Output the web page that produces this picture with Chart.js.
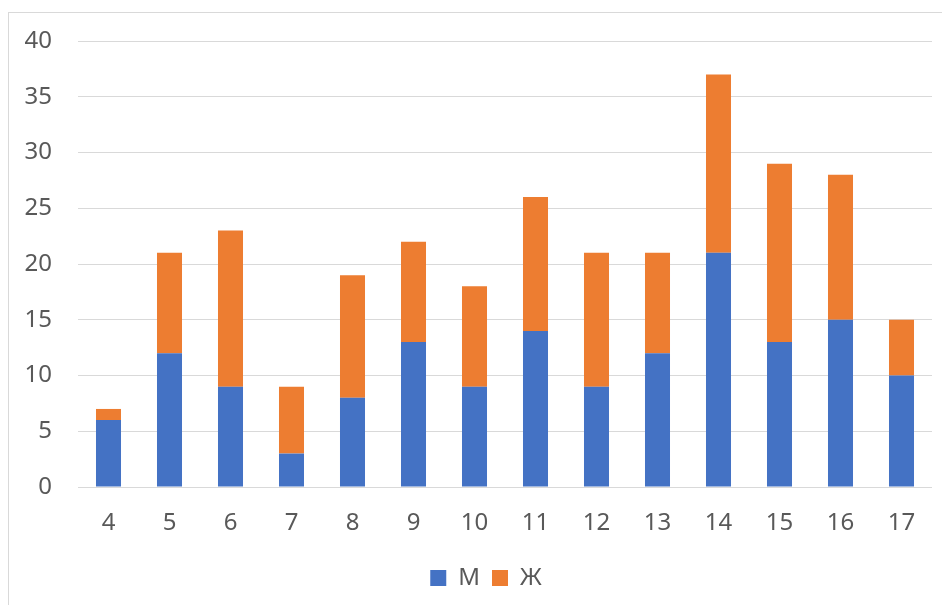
<!DOCTYPE html>
<html>
<head>
<meta charset="utf-8">
<script src="https://cdn.jsdelivr.net/npm/chart.js@4"></script>
<style>
  html, body { margin: 0; padding: 0; background: #fff; }
  #wrap { width: 942px; height: 605px; position: relative; }
</style>
</head>
<body>
<div id="wrap"><canvas id="c" width="942" height="605"></canvas></div>
<script>
// Age groups along the x axis
const categories = ['4', '5', '6', '7', '8', '9', '10', '11', '12', '13', '14', '15', '16', '17'];
// Counts per group, stacked: boys (М) at the bottom, girls (Ж) on top
const maleValues   = [6, 12, 9, 3, 8, 13, 9, 14, 9, 12, 21, 13, 15, 10];
const femaleValues = [1, 9, 14, 6, 11, 9, 9, 12, 12, 9, 16, 16, 13, 5];
const seriesNames = ['М', 'Ж'];
const yTicks = { min: 0, max: 40, step: 5 };

const textColor = '#595959';
const gridColor = '#d9d9d9';
const fontFamily = "'Noto Sans', 'Open Sans', sans-serif";

// Thin frame around the chart
const framePlugin = {
  id: 'frame',
  beforeDraw(chart) {
    const ctx = chart.ctx;
    ctx.save();
    ctx.fillStyle = '#ffffff';
    ctx.fillRect(0, 0, chart.width, chart.height);
    ctx.strokeStyle = '#d9d9d9';
    ctx.lineWidth = 1;
    ctx.strokeRect(8.5, 12.5, 1000, 1000);
    ctx.restore();
  }
};

// Nudge the legend a little left of the plot centre
const legendShift = {
  id: 'legendShift',
  afterLayout(chart) {
    const lg = chart.legend;
    if (lg) { lg.left -= 19; lg.right -= 19; }
  }
};

new Chart(document.getElementById('c'), {
  type: 'bar',
  data: {
    labels: categories,
    datasets: [
      { label: seriesNames[0], data: maleValues, backgroundColor: '#4472C4' },
      { label: seriesNames[1], data: femaleValues, backgroundColor: '#ED7D31' }
    ]
  },
  options: {
    responsive: false,
    animation: false,
    devicePixelRatio: 1,
    layout: { padding: { left: 0, right: 10, top: 41, bottom: 5 } },
    datasets: { bar: { categoryPercentage: 1.0, barPercentage: 0.41 } },
    scales: {
      x: {
        stacked: true,
        grid: { display: false, drawTicks: false },
        border: { display: false },
        ticks: { color: textColor, font: { family: fontFamily, size: 24 }, padding: 22, maxRotation: 0 },
        afterFit(scale) { scale.height = 67; }
      },
      y: {
        stacked: true,
        min: yTicks.min,
        max: yTicks.max,
        grid: { color: gridColor, lineWidth: 1, drawTicks: false, tickLength: 0 },
        border: { display: false },
        ticks: { stepSize: yTicks.step, color: textColor, font: { family: fontFamily, size: 24 }, padding: 26 },
        afterFit(scale) { scale.width = 78; }
      }
    },
    plugins: {
      legend: {
        position: 'bottom',
        fullSize: false,
        labels: {
          color: textColor,
          font: { family: fontFamily, size: 24 },
          boxWidth: 16,
          boxHeight: 16,
          padding: 12
        }
      },
      tooltip: { enabled: false }
    }
  },
  plugins: [framePlugin, legendShift]
});
</script>
</body>
</html>
